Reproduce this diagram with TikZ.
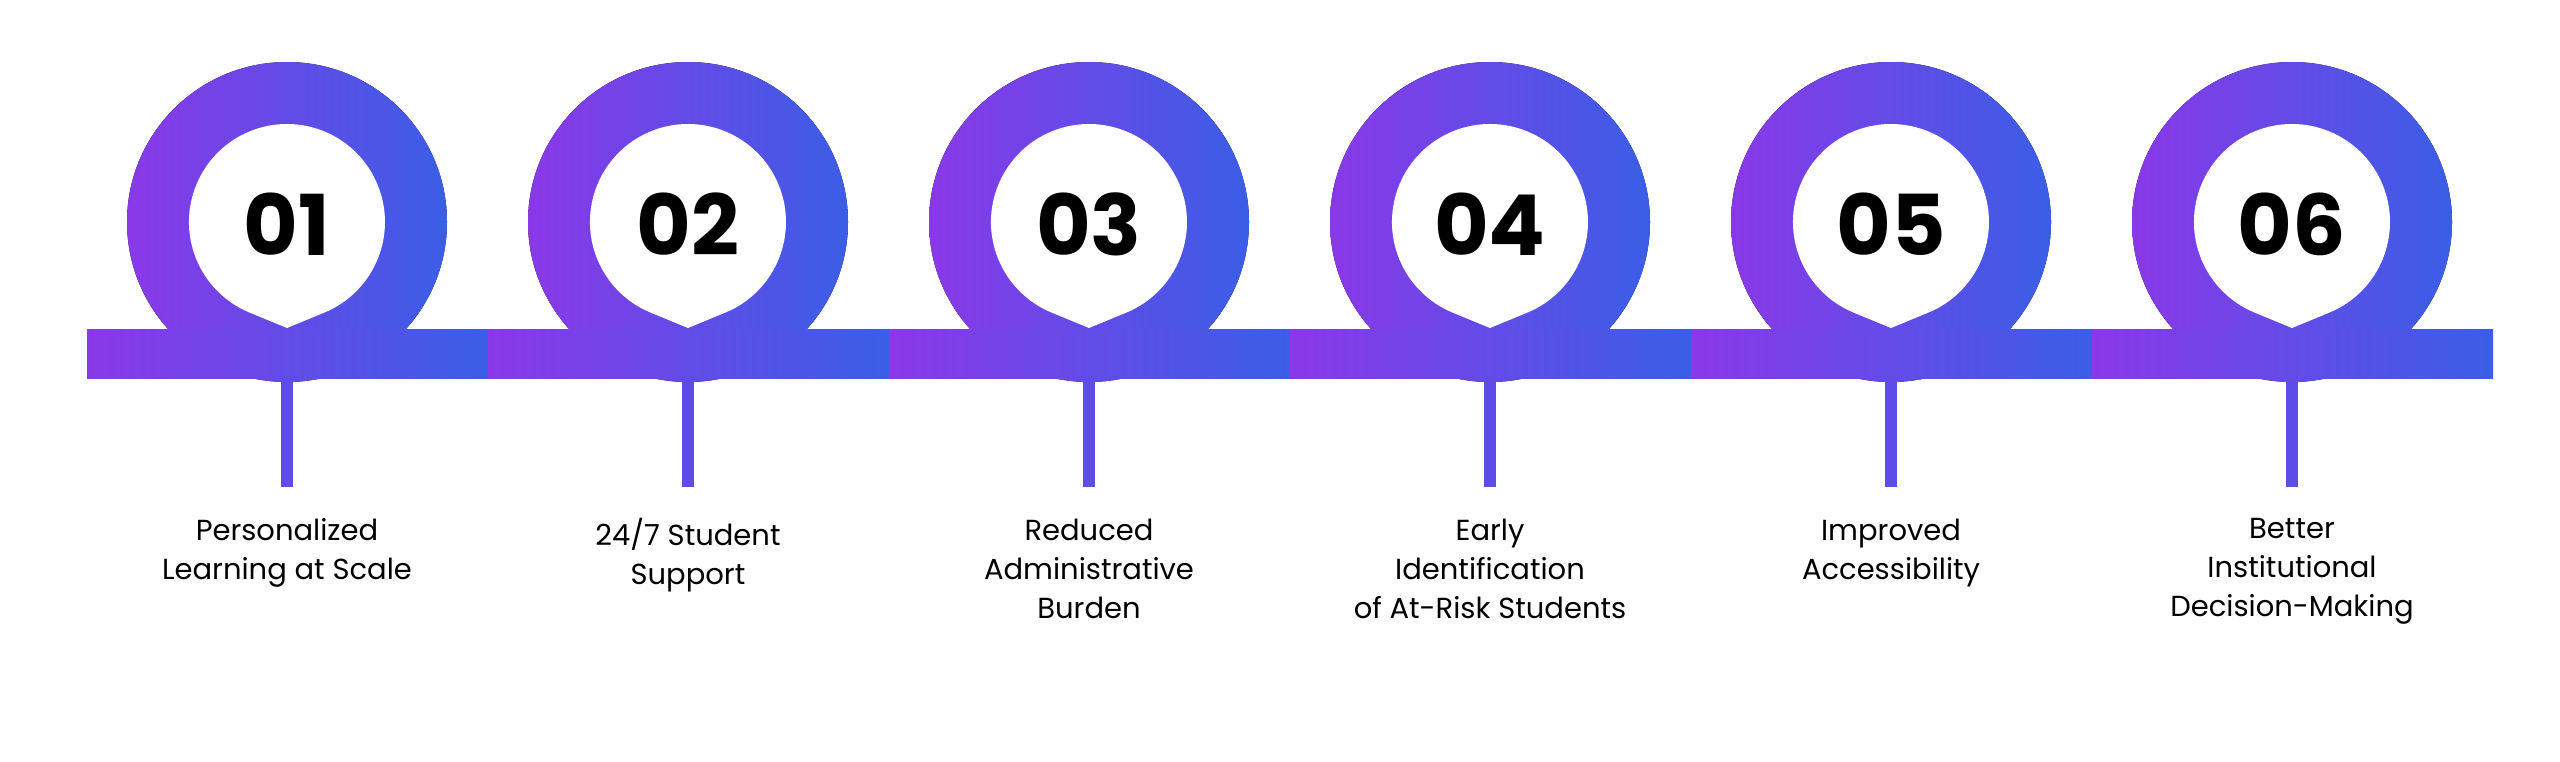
\documentclass[tikz,border=0pt]{standalone}
\usepackage{fontspec}
\setmainfont{Poppins}
\begin{document}
\begin{tikzpicture}[x=1pt,y=1pt,
  ring/.style={left color=cL,right color=cR,draw=none},
  bar/.style={left color=cL,right color=cR,draw=none},
  stem/.style={fill=cM,draw=none},
  num/.style={font=\fontsize{84}{84}\selectfont\bfseries,text=black},
  lab/.style={font=\fontsize{29}{39}\selectfont,align=center,text=black,anchor=north}]
\definecolor{cL}{HTML}{8A38E8}
\definecolor{cR}{HTML}{3A5EE6}
\definecolor{cM}{HTML}{5E4CE8}
\useasboundingbox[fill=white] (0,0) rectangle (2560,-761);
\foreach \i/\t in {0/{Personalized\\Learning at Scale},1/{24/7 Student\\Support},2/{Reduced\\Administrative\\Burden},3/{Early\\Identification\\of At-Risk Students},4/{Improved\\Accessibility},5/{Better\\Institutional\\Decision-Making}}{
  \pgfmathsetmacro{\cx}{287+401*\i}
  \pgfmathsetmacro{\bx}{87+401*\i}
  \fill[ring] (\cx,-222) circle (160);
  \fill[white] (\cx,-328) -- ++(37.3,15.4) arc[start angle=-67.6,end angle=247.6,radius=98] -- cycle;
  \fill[bar] (\bx,-329) rectangle ++(401,-49);
  \fill[stem] (\cx-6,-378) rectangle (\cx+6,-487);
  \node[num] (n\i) at (\cx,-224) {0\the\numexpr\i+1\relax};
  \node[lab] (l\i) at (\cx,-515) {\t};
}
\end{tikzpicture}
\end{document}
